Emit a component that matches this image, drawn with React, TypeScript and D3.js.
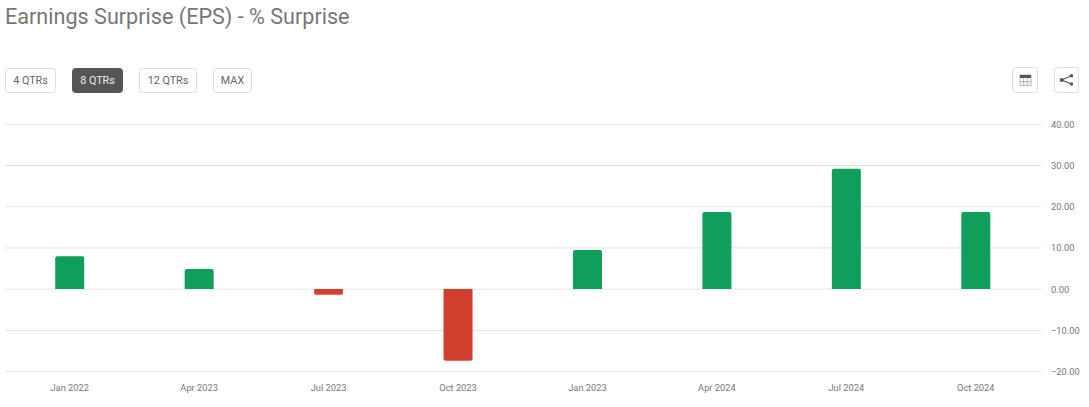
import { useEffect, useRef } from 'react';
import * as d3 from 'd3';

const quarters = ['Jan 2022', 'Apr 2023', 'Jul 2023', 'Oct 2023', 'Jan 2023', 'Apr 2024', 'Jul 2024', 'Oct 2024'];
const surprise = [8.0, 4.9, -1.4, -17.4, 9.5, 18.7, 29.2, 18.7];
const yTicks = [40, 30, 20, 10, 0, -10, -20];
const rangeButtons = ['4 QTRs', '8 QTRs', '12 QTRs', 'MAX'];
const buttonLefts = [5.5, 72.5, 139.5, 213.5];
const buttonWidths = [50, 50, 57, 38];

const width = 1089;
const height = 407;
const FONT = 'Roboto, sans-serif';

// bar with slightly rounded far end, flat on the zero line
function barPath(x0: number, x1: number, y0: number, y1: number, r: number) {
  const s = y1 < y0 ? 1 : -1;
  const p = d3.path();
  p.moveTo(x0, y0);
  p.lineTo(x0, y1 + s * r);
  p.quadraticCurveTo(x0, y1, x0 + r, y1);
  p.lineTo(x1 - r, y1);
  p.quadraticCurveTo(x1, y1, x1, y1 + s * r);
  p.lineTo(x1, y0);
  p.closePath();
  return p.toString();
}

export default function App() {
  const chartRef = useRef<SVGSVGElement>(null);

  useEffect(() => {
    const svg = d3.select(chartRef.current);
    svg.selectAll('*').remove();

    const x = d3.scaleBand().domain(quarters).range([5, 1040.5]);
    const y = d3.scaleLinear().domain([-20, 40]).range([371.5, 124.3]);
    const barW = 29;

    svg.append('text')
      .attr('x', 5).attr('y', 24)
      .attr('font-size', 21.6).attr('fill', '#777777')
      .text('Earnings Surprise (EPS) - % Surprise');

    // range buttons
    const btn = svg.append('g').selectAll('g').data(rangeButtons).enter().append('g')
      .attr('transform', (_, i) => `translate(${buttonLefts[i]},68.5)`);
    btn.append('rect')
      .attr('width', (_, i) => buttonWidths[i]).attr('height', 24).attr('rx', 3)
      .attr('fill', d => (d === '8 QTRs' ? '#555555' : '#fff'))
      .attr('stroke', d => (d === '8 QTRs' ? '#555555' : '#dcdcdc'));
    btn.append('text')
      .attr('x', (_, i) => buttonWidths[i] / 2).attr('y', 15.5)
      .attr('text-anchor', 'middle').attr('font-size', 10.8)
      .attr('fill', d => (d === '8 QTRs' ? '#eee' : '#666'))
      .text(d => d);

    // table icon button
    svg.append('rect').attr('x', 1012.5).attr('y', 67.5).attr('width', 25).attr('height', 25).attr('rx', 3)
      .attr('fill', '#fff').attr('stroke', '#dcdcdc');
    svg.append('rect').attr('x', 1020).attr('y', 75).attr('width', 11).attr('height', 10.5)
      .attr('fill', '#fff').attr('stroke', '#888').attr('stroke-width', 0.6);
    svg.append('rect').attr('x', 1020).attr('y', 75).attr('width', 11).attr('height', 3).attr('fill', '#555');
    svg.append('path').attr('d', 'M1023.7 78V85.5M1027.3 78V85.5M1020 81.7H1031')
      .attr('stroke', '#888').attr('stroke-width', 0.6);

    // share icon button
    svg.append('rect').attr('x', 1054.5).attr('y', 67.5).attr('width', 24).attr('height', 25).attr('rx', 3)
      .attr('fill', '#fff').attr('stroke', '#dcdcdc');
    svg.append('path').attr('d', 'M1071.5 75.7L1061.7 80L1071.5 84').attr('fill', 'none')
      .attr('stroke', '#555').attr('stroke-width', 1.1);
    svg.append('g').selectAll('circle').data([[1071.5, 75.7, 1.7], [1061.7, 80, 2], [1071.5, 84, 1.7]]).enter().append('circle')
      .attr('cx', d => d[0]).attr('cy', d => d[1]).attr('r', d => d[2]).attr('fill', '#555');

    // grid + y labels
    svg.append('g').selectAll('line').data(yTicks).enter().append('line')
      .attr('x1', 5).attr('x2', 1041)
      .attr('y1', d => y(d)).attr('y2', d => y(d))
      .attr('stroke', '#e3e3e3').attr('stroke-width', 1);
    svg.append('g').selectAll('text').data(yTicks).enter().append('text')
      .attr('x', 1051).attr('y', d => y(d) + 3.5)
      .attr('font-size', 9.3).attr('fill', '#777')
      .text(d => d3.format('.2f')(d));

    // bars
    svg.append('g').selectAll('path').data(surprise).enter().append('path')
      .attr('d', (d, i) => {
        const cx = x(quarters[i])! + x.bandwidth() / 2;
        return barPath(cx - barW / 2, cx + barW / 2, y(0), y(d), 2);
      })
      .attr('fill', d => (d >= 0 ? '#109f5b' : '#d33f2f'));

    // x labels
    svg.append('g').selectAll('text').data(quarters).enter().append('text')
      .attr('x', d => x(d)! + x.bandwidth() / 2).attr('y', 391)
      .attr('text-anchor', 'middle').attr('font-size', 9.3).attr('fill', '#777')
      .text(d => d);
  }, []);

  return (
    <svg ref={chartRef} width={width} height={height} viewBox={`0 0 ${width} ${height}`}
      style={{ position: 'absolute', left: 0, top: 0, background: '#fff', fontFamily: FONT }} />
  );
}
